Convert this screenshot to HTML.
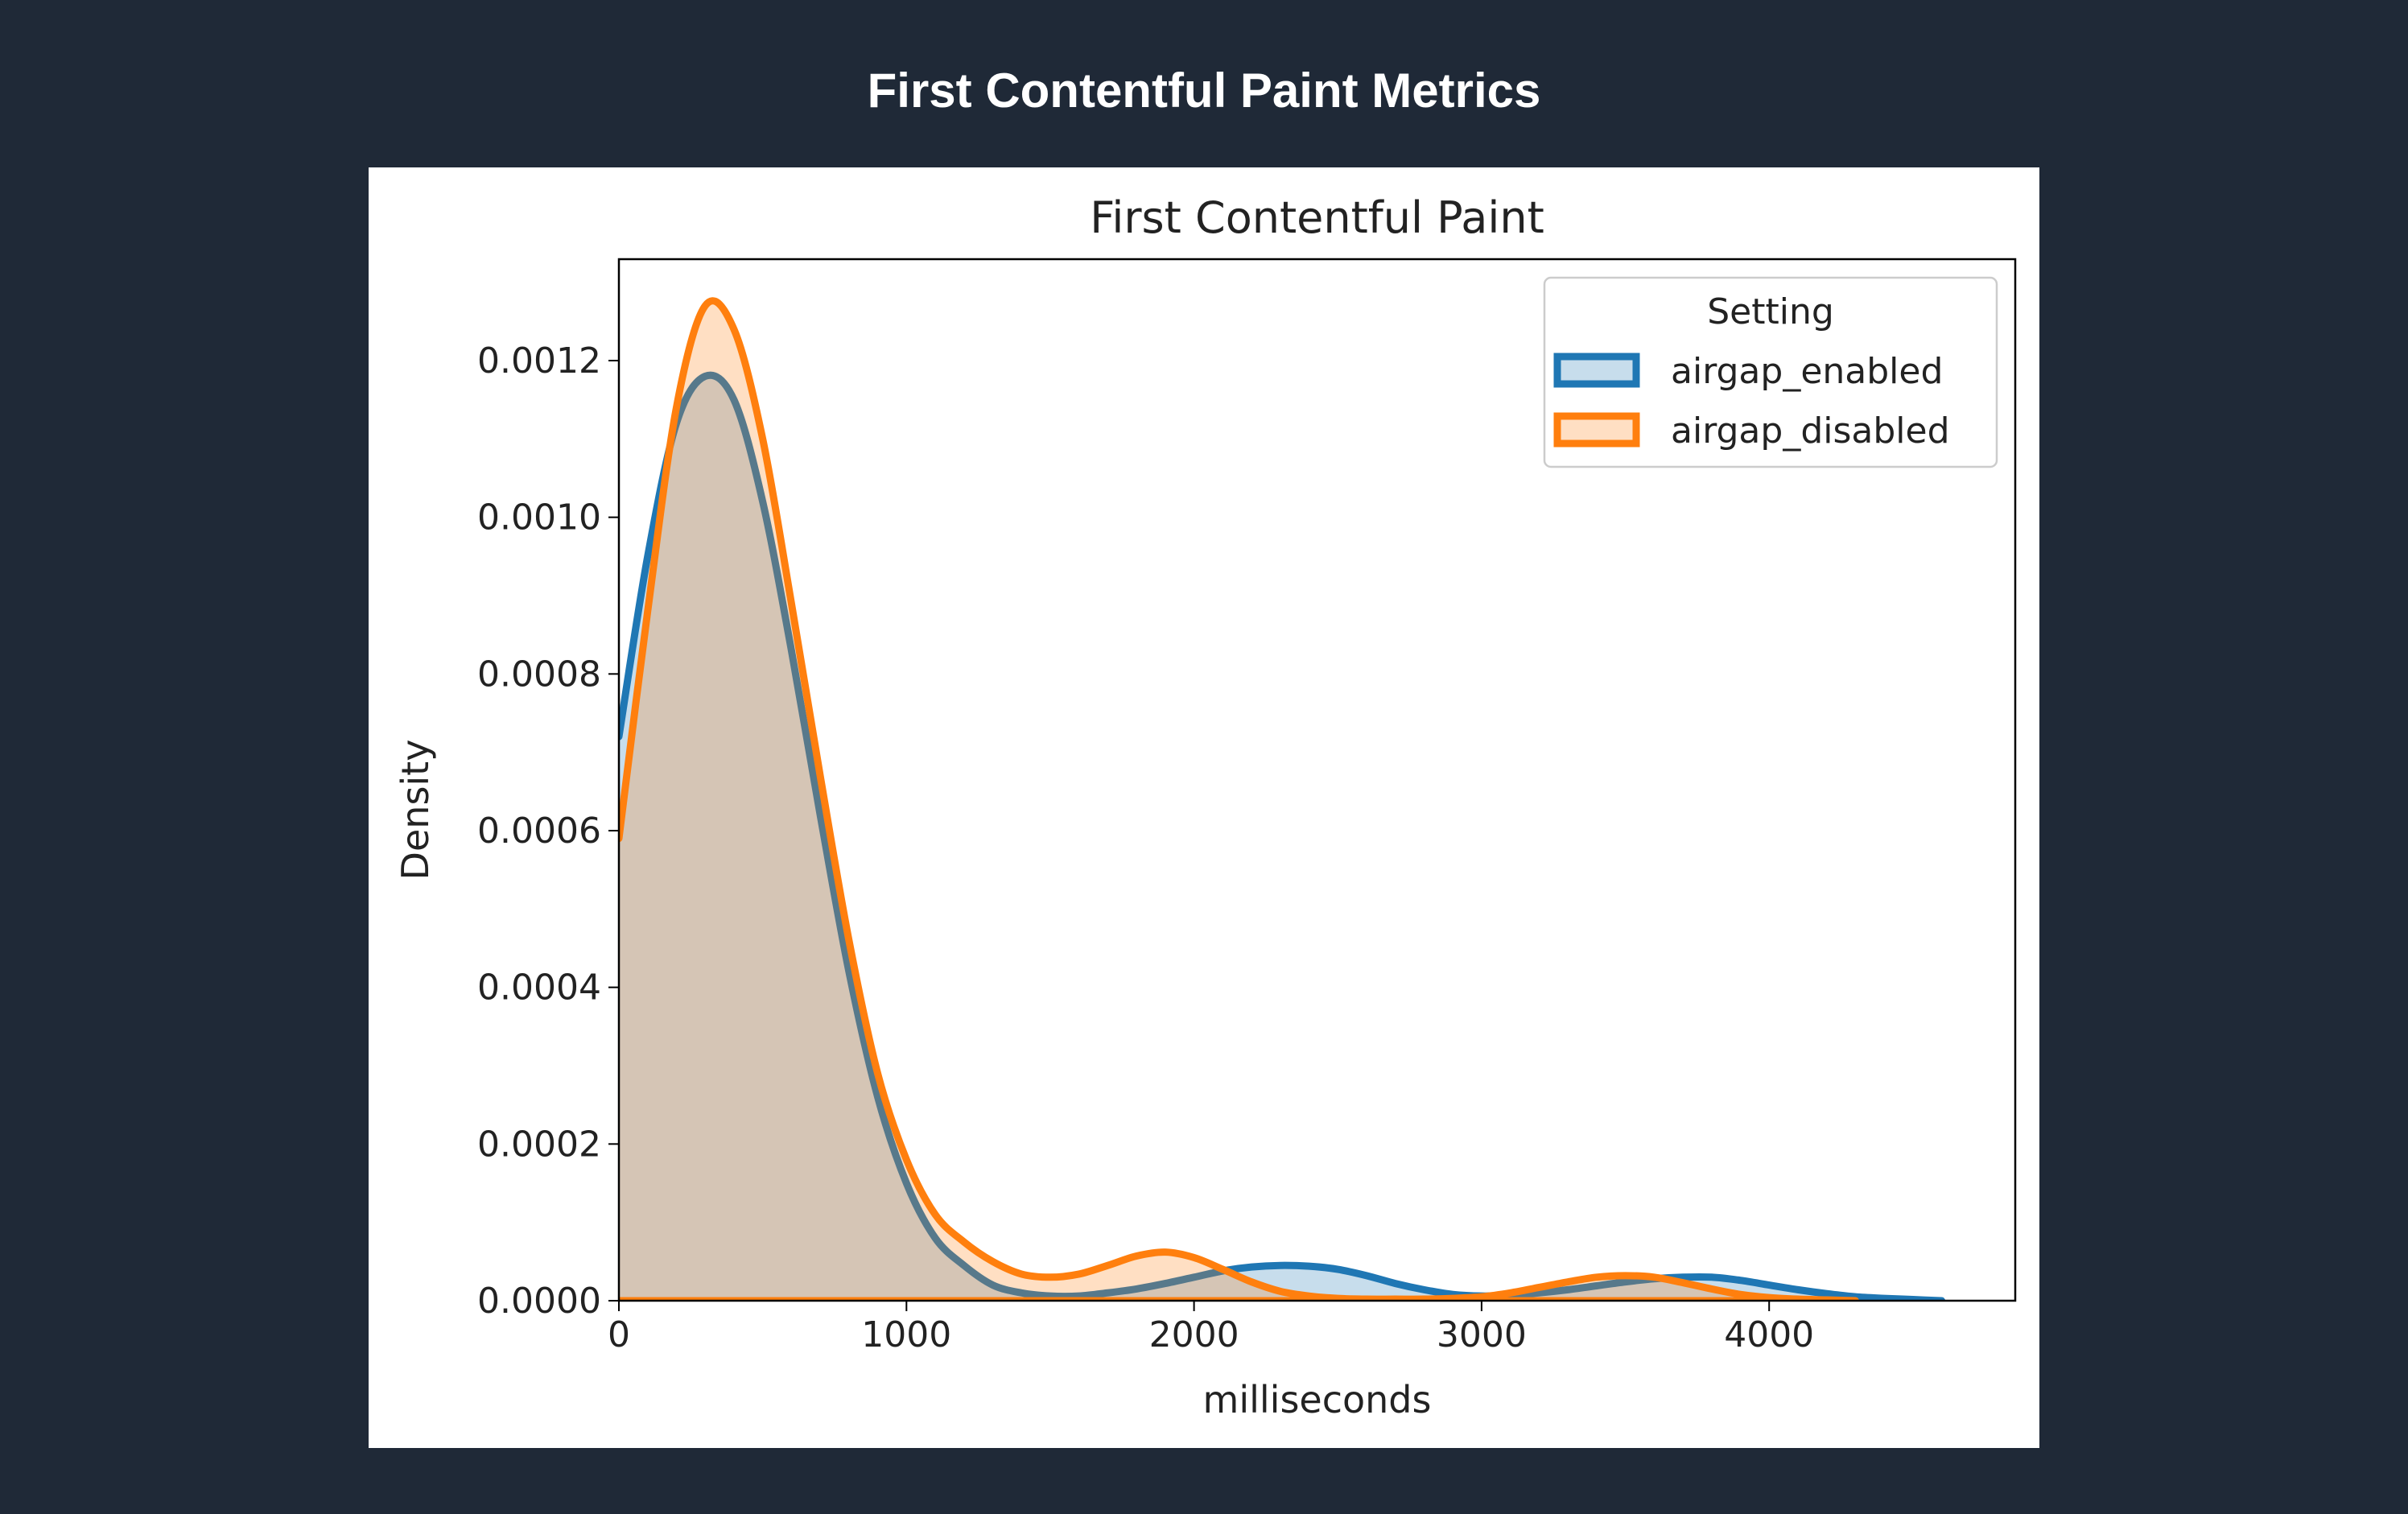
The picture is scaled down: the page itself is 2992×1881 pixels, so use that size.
<!DOCTYPE html>
<html><head><meta charset="utf-8">
<style>
html,body{margin:0;padding:0;background:#1f2937;}
body{width:2992px;height:1881px;position:relative;overflow:hidden;}
#page-title{position:absolute;left:0;width:2992px;top:78px;text-align:center;color:#fff;font-family:"Liberation Sans",sans-serif;font-weight:bold;font-size:60px;}
#panel{position:absolute;left:458px;top:208px;width:2076px;height:1591px;background:#fff;}
svg{position:absolute;left:0;top:0;}
text{font-family:"DejaVu Sans","Liberation Sans",sans-serif;fill:#222;}
</style></head>
<body>
<div id="page-title">First Contentful Paint Metrics</div>
<div id="panel"></div>
<svg id="chart" width="2992" height="1881"></svg>
<script>
const xValues = [0,100,200,300,400,500,600,700,800,900,1000,1100,1200,1300,1400,1500,1600,1700,1800,1900,2000,2100,2200,2300,2400,2500,2600,2700,2800,2900,3000,3100,3200,3300,3400,3500,3600,3700,3800,3900,4000,4100,4200,4300,4400,4500,4600];
const enabledDensity = [0.00072,0.00095,0.00112,0.00118,0.00115,0.00102,0.00083,0.00062,0.00042,0.00026,0.00015,0.00008,0.000045,0.00002,0.00001,0.000006,0.000006,0.00001,0.000015,0.000022,0.00003,0.000038,0.000043,0.000045,0.000044,0.00004,0.000032,0.000022,0.000014,0.000008,0.000006,0.000007,0.00001,0.000014,0.000019,0.000024,0.000028,0.00003,0.00003,0.000026,0.00002,0.000014,0.000009,0.000005,0.000003,0.0000015,0];
const disabledDensity = [0.00059,0.00088,0.00114,0.00127,0.00124,0.00110,0.00089,0.00067,0.00046,0.00029,0.00018,0.00011,0.000075,0.00005,0.000034,0.00003,0.000034,0.000045,0.000057,0.000062,0.000055,0.00004,0.000024,0.000012,0.000006,0.000003,0.000002,0.000002,0.000002,0.000003,0.000005,0.00001,0.000017,0.000024,0.00003,0.000032,0.00003,0.000023,0.000015,0.000008,0.000004,0.000002,0.000001,0];
const xTicks = [0,1000,2000,3000,4000];
const xTickLabels = ["0","1000","2000","3000","4000"];
const yTicks = [0,0.0002,0.0004,0.0006,0.0008,0.0010,0.0012];
const yTickLabels = ["0.0000","0.0002","0.0004","0.0006","0.0008","0.0010","0.0012"];

const L=769,R=2504,T=322,B=1616;
const xs = v => L + v*0.3573;
const ys = v => B - v*(1168/0.0012);
const NS='http://www.w3.org/2000/svg';
const svg=document.getElementById('chart');
function mk(tag,attrs,parent){const e=document.createElementNS(NS,tag);for(const k in attrs)e.setAttribute(k,attrs[k]);(parent||svg).appendChild(e);return e;}

const defs=mk('defs',{});
const cp=mk('clipPath',{id:'plotclip'},defs);
mk('rect',{x:L,y:T-20,width:R-L,height:B-T+20},cp);
const g=mk('g',{'clip-path':'url(#plotclip)'});

function series(vals,color,name){
  const n=vals.length;
  let pts=[];
  for(let i=0;i<n;i++)pts.push([xs(xValues[i]),ys(vals[i])]);
  // smooth path (catmull-rom)
  let d='M'+pts[0][0]+','+pts[0][1];
  for(let i=0;i<n-1;i++){
    const p0=pts[Math.max(i-1,0)],p1=pts[i],p2=pts[i+1],p3=pts[Math.min(i+2,n-1)];
    const c1=[p1[0]+(p2[0]-p0[0])/6,p1[1]+(p2[1]-p0[1])/6];
    const c2=[p2[0]-(p3[0]-p1[0])/6,p2[1]-(p3[1]-p1[1])/6];
    d+=' C'+c1[0]+','+c1[1]+' '+c2[0]+','+c2[1]+' '+p2[0]+','+p2[1];
  }
  const fd=d+' L'+pts[n-1][0]+','+B+' L'+pts[0][0]+','+B+' Z';
  const f=mk('path',{d:fd,fill:color,'fill-opacity':0.25,stroke:'none'},g);
  
  
  const l=mk('path',{d:d+' L'+pts[n-1][0]+','+B+' L'+pts[0][0]+','+B,fill:'none',stroke:color,'stroke-width':9,'stroke-linejoin':'round','stroke-linecap':'round'},g);
  
  
}
let lastIdx=disabledDensity.length;
series(enabledDensity,'#1f77b4','airgap-enabled');
series(disabledDensity,'#ff7f0e','airgap-disabled');

const frame=mk('rect',{x:L,y:T,width:R-L,height:B-T,fill:'none',stroke:'#000','stroke-width':2.5});



xTicks.forEach((v,i)=>{
  const x=xs(v);
  const t=mk('line',{x1:x,x2:x,y1:B,y2:B+13,stroke:'#000','stroke-width':2});
  
  
  const tx=mk('text',{x:x,y:B+57,'text-anchor':'middle','font-size':44});
  tx.textContent=xTickLabels[i];
  
  
});
yTicks.forEach((v,i)=>{
  const y=ys(v);
  const t=mk('line',{x1:L-13,x2:L,y1:y,y2:y,stroke:'#000','stroke-width':2});
  
  
  const tx=mk('text',{x:L-22,y:y+15,'text-anchor':'end','font-size':44});
  tx.textContent=yTickLabels[i];
  
  
});

const title=mk('text',{x:(L+R)/2,y:289,'text-anchor':'middle','font-size':54});
title.textContent='First Contentful Paint';


const xl=mk('text',{x:(L+R)/2,y:1755,'text-anchor':'middle','font-size':46});
xl.textContent='milliseconds';


const yl=mk('text',{x:0,y:0,'text-anchor':'middle','font-size':46,transform:'translate(532,1006) rotate(-90)'});
yl.textContent='Density';



// legend
const lg=mk('g',{});


mk('rect',{x:1919,y:345,width:562,height:235,rx:8,fill:'#fff','fill-opacity':0.85,stroke:'#ccc','stroke-width':2.5},lg);
const lt=mk('text',{x:2200,y:402,'text-anchor':'middle','font-size':44},lg);
lt.textContent='Setting';


[['#1f77b4','airgap_enabled',460],['#ff7f0e','airgap_disabled',534]].forEach(e=>{
  const ent=mk('g',{},lg);
  
  
  mk('rect',{x:1935,y:e[2]-17,width:98,height:34,fill:e[0],'fill-opacity':0.25,stroke:e[0],'stroke-width':9},ent);
  const tx=mk('text',{x:2076,y:e[2]+16,'font-size':44},ent);
  tx.textContent=e[1];
});
</script>
</body></html>
